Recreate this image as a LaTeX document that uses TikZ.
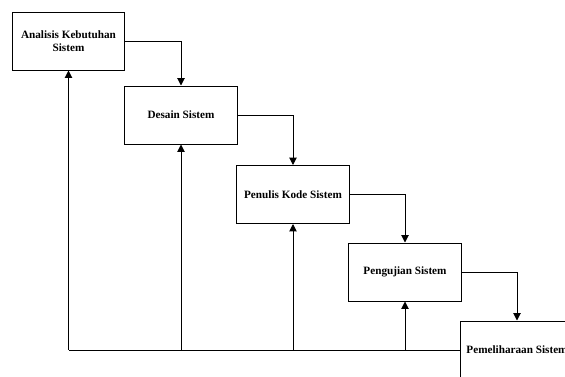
\documentclass[tikz,border=0pt]{standalone}
\usepackage{fontspec}
\setmainfont{Liberation Serif}
\usetikzlibrary{arrows.meta}

\begin{document}
\begin{tikzpicture}[x=0.75pt, y=-0.75pt, line width=0.75pt,
  tahap/.style={draw, rectangle, minimum width=84.5pt, minimum height=43.5pt,
    inner sep=2pt, align=center, font=\fontsize{8.4}{9.8}\selectfont\bfseries},
  panah/.style={-{Triangle[length=5.5pt,width=5.5pt]}}]
\useasboundingbox (0,0) rectangle (565,376);
\clip (0,0) rectangle (565,376);
\node[tahap] (t1) at (68.5,41){Analisis Kebutuhan\\Sistem};
\node[tahap] (t2) at (181,115){Desain Sistem};
\node[tahap] (t3) at (293,194.5){Penulis Kode Sistem};
\node[tahap] (t4) at (405,272){Pengujian Sistem};
\node[tahap] (t5) at (517,350){Pemeliharaan Sistem};
\draw[panah](t1.east) -| (t2.north);
\draw[panah](t2.east) -| (t3.north);
\draw[panah](t3.east) -| (t4.north);
\draw[panah](t4.east) -| (t5.north);
% umpan balik
\coordinate (b1) at (t5.west -| t1.south);
\coordinate (b2) at (t5.west -| t2.south);
\coordinate (b3) at (t5.west -| t3.south);
\coordinate (b4) at (t5.west -| t4.south);
\draw[](t5.west) -- (b1);
\draw[panah](b1) -- (t1.south);
\draw[panah](b2) -- (t2.south);
\draw[panah](b3) -- (t3.south);
\draw[panah](b4) -- (t4.south);
\end{tikzpicture}
\end{document}
